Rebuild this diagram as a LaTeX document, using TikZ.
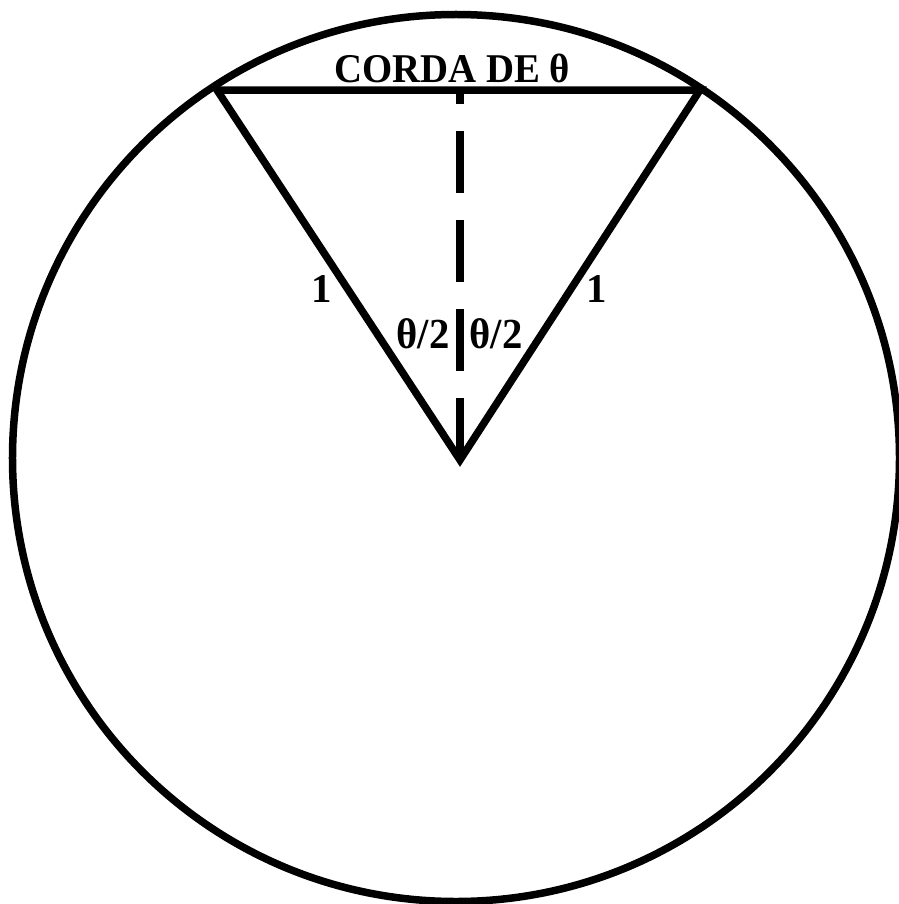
\documentclass[tikz,border=0pt]{standalone}
\usepackage{fontspec}
\setmainfont{Liberation Serif}
\newcommand{\narrowtxt}[1]{\scalebox{0.95}[1]{#1}}
\tikzset{
  stroke/.style={line width=7.5bp, black},
  chorddash/.style={stroke, dash pattern=on 62bp off 27bp},
  lbl/.style={inner sep=0pt, anchor=base, font=\bfseries\fontsize{41}{44}\selectfont},
  anglbl/.style={lbl, font=\bfseries\fontsize{43}{46}\selectfont},
}
\begin{document}
\begin{tikzpicture}[x=1bp,y=-1bp]
\useasboundingbox (0,0) rectangle (899,904);
\fill[white] (0,0) rectangle (899,904);
\coordinate (C) at (456,458);
\coordinate (O) at (460,460);
\coordinate (A) at (217,90);
\coordinate (B) at (700,90);
\coordinate (M) at (460,90);
\draw[stroke] (C) circle[radius=443.5bp];
\draw[stroke, line join=miter] (A) -- (O) -- (B) -- cycle;
\draw[chorddash] (O) -- (M);
\node[lbl] (title) at (452,82) {\narrowtxt{CORDA DE θ}};
\node[lbl] (l1) at (322,302) {1};
\node[lbl] (l2) at (597,302) {1};
\node[anglbl] (t1) at (423,348) {\narrowtxt{θ/2}};
\node[anglbl] (t2) at (496,348) {\narrowtxt{θ/2}};
\end{tikzpicture}
\end{document}
